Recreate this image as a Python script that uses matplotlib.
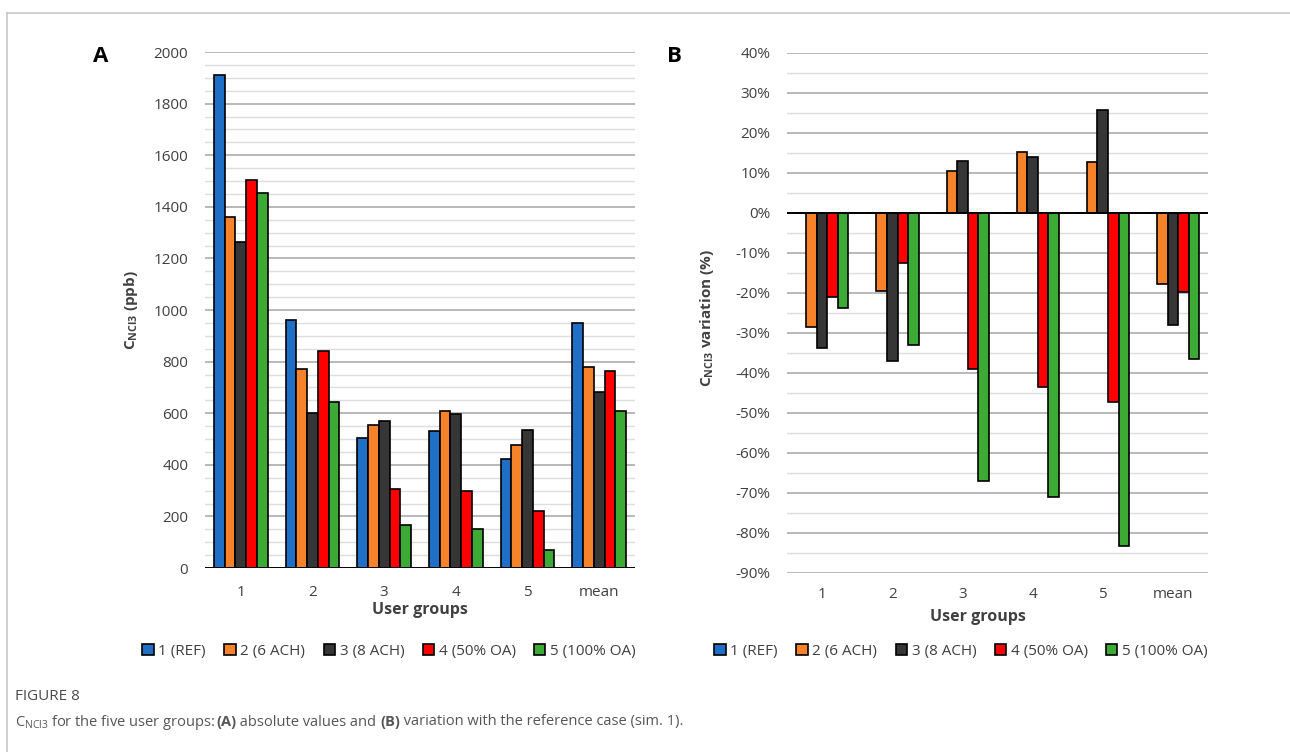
import matplotlib
matplotlib.use("Agg")
import matplotlib.pyplot as plt
import numpy as np
from matplotlib.patches import Patch
from matplotlib.ticker import MultipleLocator, FuncFormatter

plt.rcParams['font.family'] = ['Open Sans', 'DejaVu Sans']
plt.rcParams['mathtext.fontset'] = 'custom'
plt.rcParams['mathtext.rm'] = 'Open Sans'
plt.rcParams['mathtext.bf'] = 'Open Sans:bold'

groups = ["1", "2", "3", "4", "5", "mean"]
series_names = ["1 (REF)", "2 (6 ACH)", "3 (8 ACH)", "4 (50% OA)", "5 (100% OA)"]
colors = ["#1f6fc6", "#f6822a", "#363636", "#ff0000", "#3daa35"]

# Panel A: absolute values (ppb)
abs_ref   = [1910, 960, 505, 530, 423, 948]
abs_6ach  = [1360, 773, 553, 607, 475, 780]
abs_8ach  = [1262, 601, 570, 598, 533, 683]
abs_50oa  = [1503, 843, 305, 297, 222, 765]
abs_100oa = [1453, 642, 165, 152, 70, 607]

# Panel B: variation vs reference (%)
var_ref   = [0, 0, 0, 0, 0, 0]
var_6ach  = [-28.5, -19.5, 10.5, 15.2, 12.8, -17.8]
var_8ach  = [-33.8, -37.0, 13.0, 14.0, 25.8, -28.0]
var_50oa  = [-21.0, -12.5, -39.0, -43.5, -47.3, -19.7]
var_100oa = [-23.8, -33.0, -67.0, -71.0, -83.2, -36.5]

W, H = 1290, 752
fig = plt.figure(figsize=(W/100, H/100), dpi=100)

def fx(x): return x / W
def fy(y): return 1 - y / H

# outer frame lines (top and left)
fig.add_artist(plt.Line2D([fx(7), 1.0], [fy(13), fy(13)], color="#c8c8c8", lw=1.2))
fig.add_artist(plt.Line2D([fx(7), fx(7)], [fy(13), 0.0], color="#c8c8c8", lw=1.2))

major_c = "#a6a6a6"
minor_c = "#dedede"
tick_fs = 11
text_c = "#404040"

def draw_panel(ax, data, ylim, major, minor, fmt, pad):
    n = len(data)
    x = np.arange(len(groups))
    bw = 0.15
    for i, vals in enumerate(data):
        ax.bar(x + (i - (n - 1) / 2) * bw, vals, bw, color=colors[i],
               edgecolor="black", linewidth=1.2, zorder=3)
    ax.set_xlim(-0.5, len(groups) - 0.5)
    ax.set_ylim(*ylim)
    ax.yaxis.set_major_locator(MultipleLocator(major))
    ax.yaxis.set_minor_locator(MultipleLocator(minor))
    ax.yaxis.set_major_formatter(FuncFormatter(fmt))
    ax.grid(which="major", axis="y", color=major_c, lw=1.1, zorder=0)
    ax.grid(which="minor", axis="y", color=minor_c, lw=1.0, zorder=0)
    for s in ["left", "right", "top", "bottom"]:
        ax.spines[s].set_visible(False)
    ax.tick_params(axis="both", which="both", length=0)
    ax.tick_params(axis="y", pad=pad, labelsize=tick_fs, labelcolor=text_c)
    ax.set_xticks(x)
    ax.set_xticklabels([])
    ax.set_axisbelow(True)

# Panel A
axA = fig.add_axes([fx(205), fy(568), 430/W, 516/H])
draw_panel(axA, [abs_ref, abs_6ach, abs_8ach, abs_50oa, abs_100oa],
           (0, 2000), 200, 50, lambda v, p: f"{v:.0f}", 12)
axA.axhline(0, color="black", lw=1.4, zorder=4)

# Panel B
axB = fig.add_axes([fx(787), fy(573), 421/W, 520/H])
draw_panel(axB, [var_ref, var_6ach, var_8ach, var_50oa, var_100oa],
           (-90, 40), 10, 5, lambda v, p: f"{v:.0f}%", 12)
axB.axhline(0, color="black", lw=1.4, zorder=4)

# x tick labels
for ax, ylab in [(axA, 592), (axB, 595)]:
    for i, g in enumerate(groups):
        xd = ax.transData.transform((i, 0))[0]
        fig.text(xd / W, fy(ylab), g, ha="center", va="center",
                 fontsize=tick_fs, color=text_c)

# x labels
fig.text(fx(420), fy(610), "User groups", ha="center", va="center",
         fontsize=11.5, fontweight="bold", color=text_c)
fig.text(fx(978), fy(617), "User groups", ha="center", va="center",
         fontsize=11.5, fontweight="bold", color=text_c)

# y labels
fig.text(fx(131), fy(310), r"C$_{\mathbf{NCl3}}$ (ppb)", rotation=90,
         ha="center", va="center", fontsize=11, fontweight="bold", color=text_c)
fig.text(fx(707), fy(318), r"C$_{\mathbf{NCl3}}$ variation (%)", rotation=90,
         ha="center", va="center", fontsize=11, fontweight="bold", color=text_c)

# panel letters
fig.text(fx(101), fy(57), "A", ha="center", va="center", fontsize=16,
         fontweight="bold", color="black")
fig.text(fx(674), fy(57), "B", ha="center", va="center", fontsize=16,
         fontweight="bold", color="black")

# legends
handles = [Patch(facecolor=c, edgecolor="black", linewidth=1.2) for c in colors]
for cx in (389, 961):
    fig.legend(handles, series_names, loc="center", bbox_to_anchor=(fx(cx), fy(651)),
               ncol=5, frameon=False, fontsize=11, handlelength=0.75, handleheight=0.75,
               handletextpad=0.3, columnspacing=1.2, labelcolor=text_c)

# caption
fig.text(fx(15), fy(697), "FIGURE 8", ha="left", va="center", fontsize=11,
         color="#4a4a4a")

fig.canvas.draw()
renderer = fig.canvas.get_renderer()
pieces = [(r"C$_{\mathrm{NCl3}}$ for the five user groups: ", "normal"),
          ("(A)", "bold"),
          (" absolute values and ", "normal"),
          ("(B)", "bold"),
          (" variation with the reference case (sim. 1).", "normal")]
xcur = 15
for txt, wt in pieces:
    t = fig.text(fx(xcur), fy(722), txt, ha="left", va="center", fontsize=10.5,
                 fontweight=wt, color="#555555")
    bb = t.get_window_extent(renderer=renderer)
    xcur += bb.width

fig.savefig("out.png", dpi=100)
